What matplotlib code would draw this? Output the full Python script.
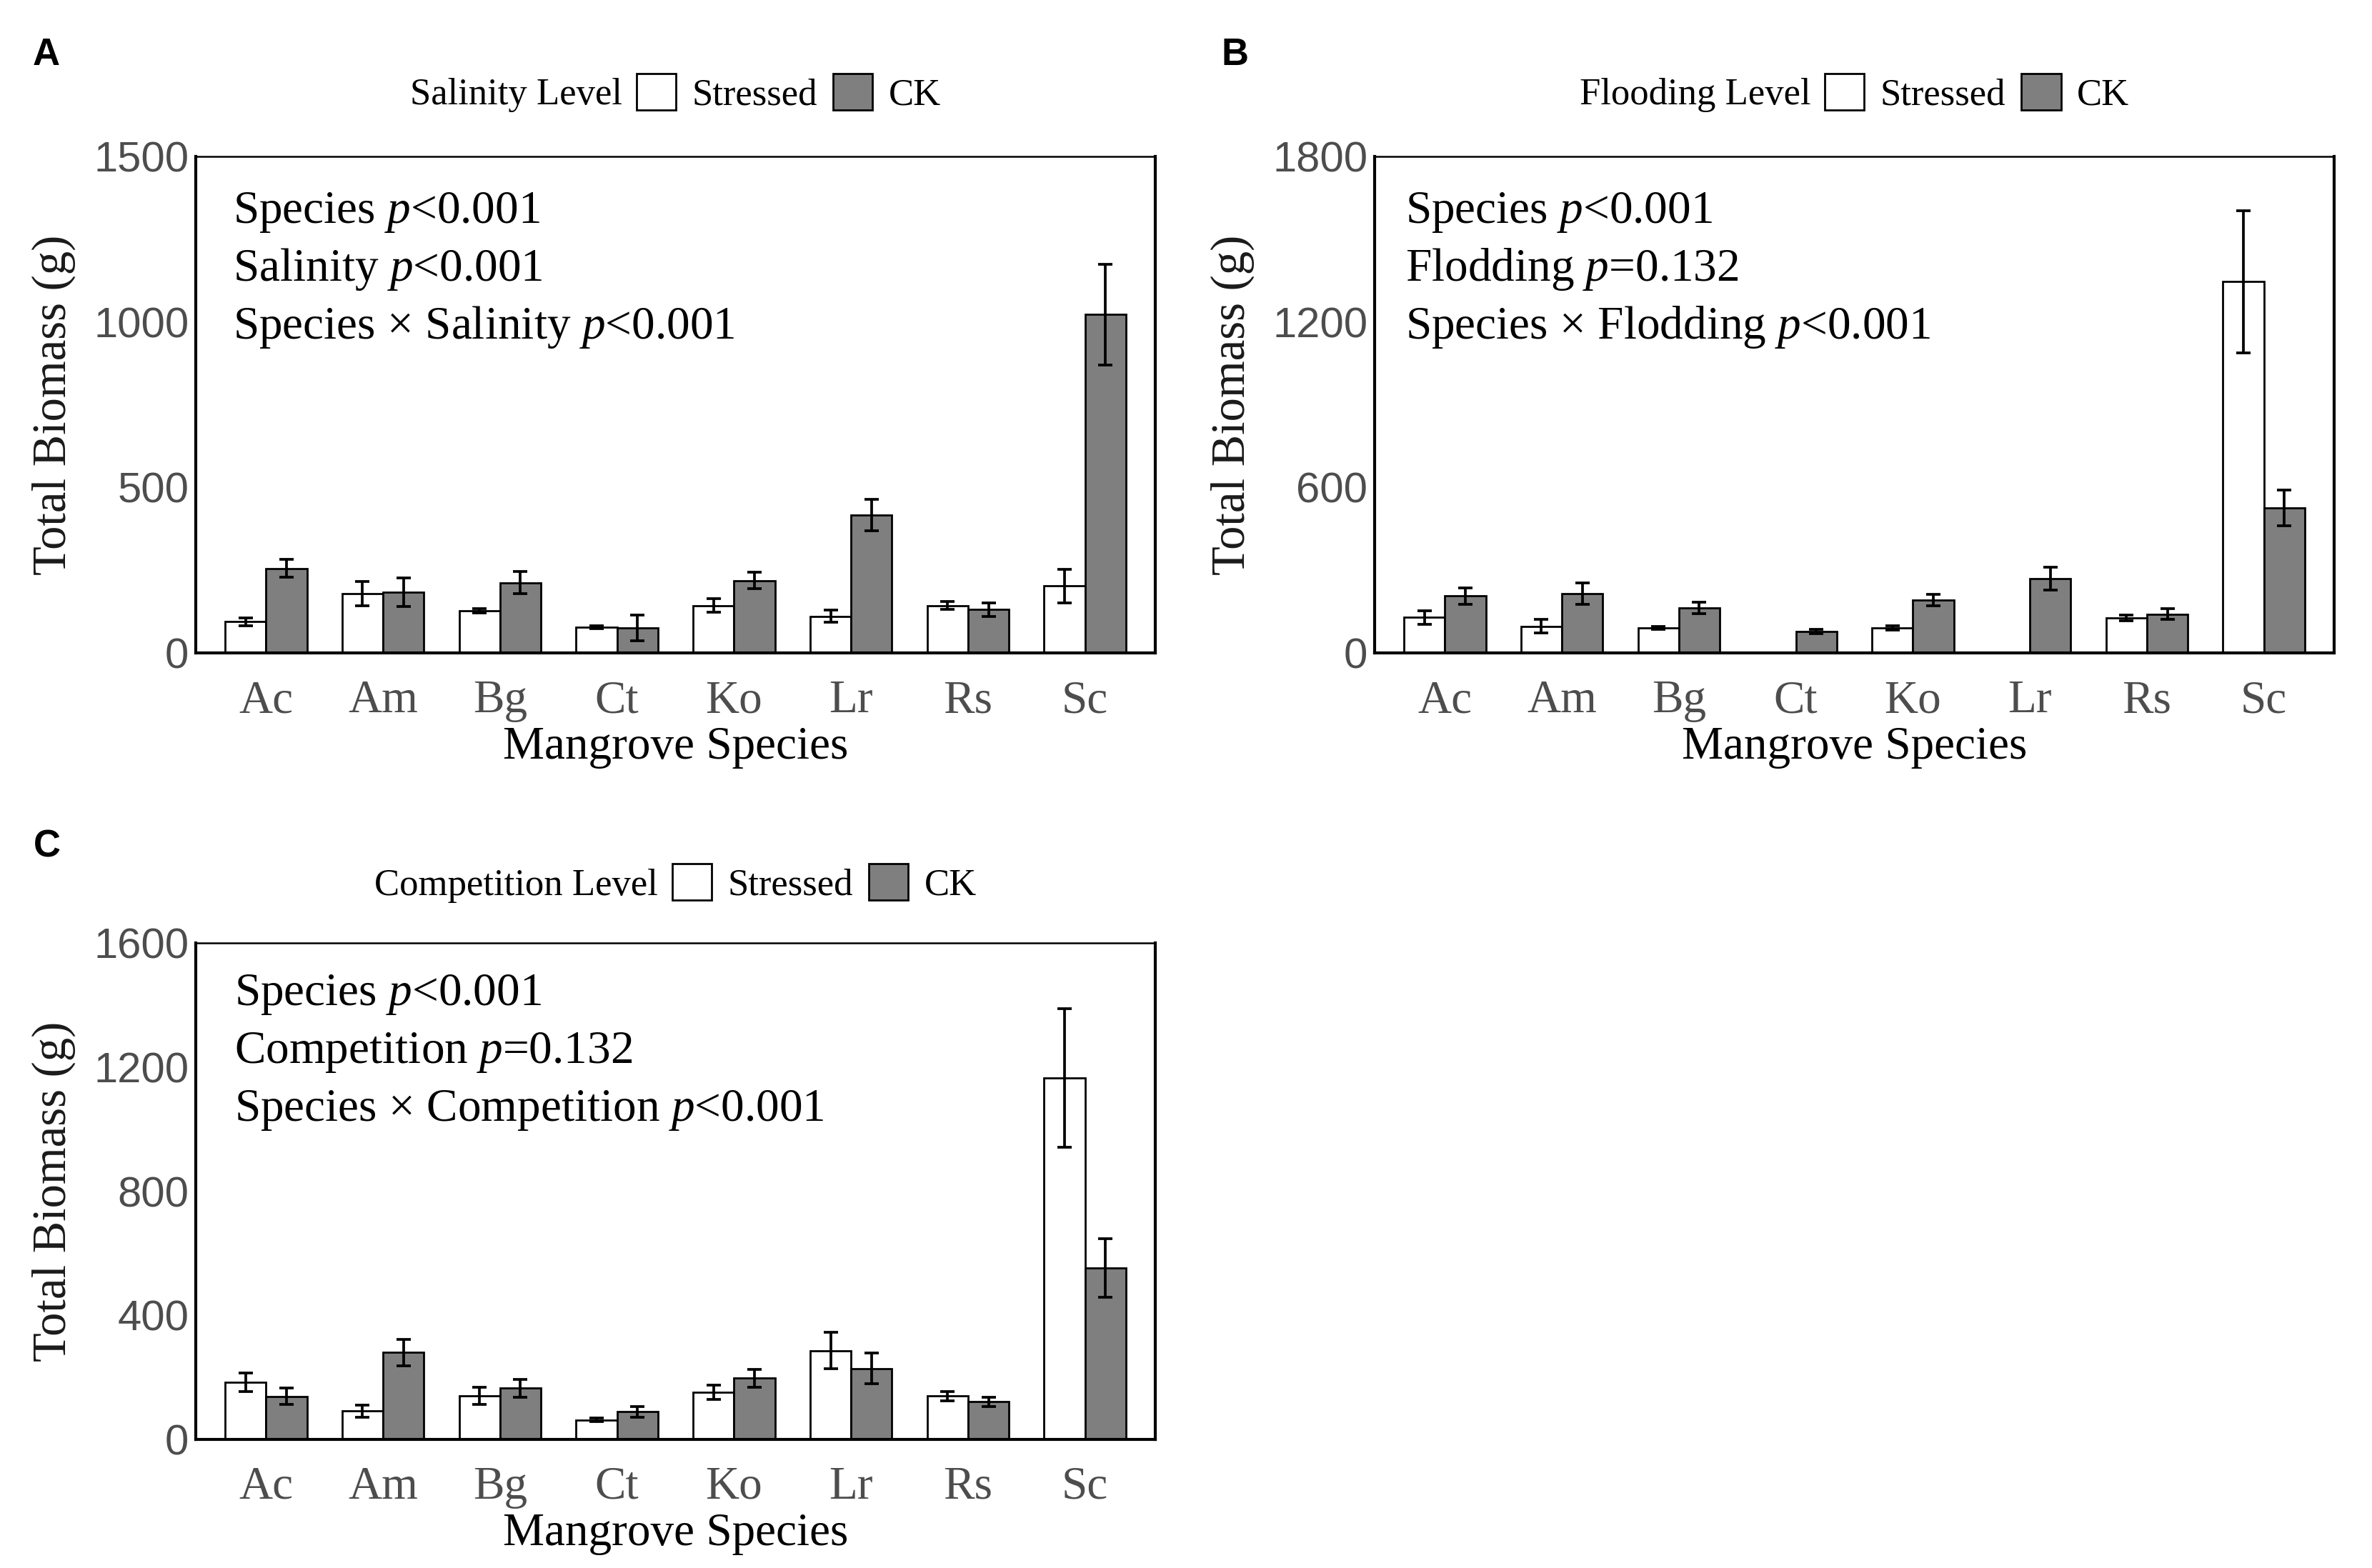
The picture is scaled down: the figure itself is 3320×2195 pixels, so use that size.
import matplotlib
matplotlib.use('Agg')
import matplotlib.pyplot as plt
from matplotlib.offsetbox import HPacker
import numpy as np

nan = np.nan

# data
species = ['Ac', 'Am', 'Bg', 'Ct', 'Ko', 'Lr', 'Rs', 'Sc']

salinity_stressed = [94, 179, 127, 77, 143, 111, 143, 202]
salinity_stressed_se = [12, 37, 6, 4, 21, 18, 12, 50]
salinity_ck = [255, 183, 212, 76, 219, 416, 131, 1022]
salinity_ck_se = [27, 43, 33, 39, 24, 48, 21, 152]

flooding_stressed = [129, 97, 91, nan, 91, nan, 127, 1346]
flooding_stressed_se = [25, 25, 5, nan, 8, nan, 10, 258]
flooding_ck = [206, 214, 163, 77, 192, 270, 141, 526]
flooding_ck_se = [30, 39, 20, 8, 20, 42, 20, 64]

competition_stressed = [184, 91, 140, 63, 153, 286, 140, 1165]
competition_stressed_se = [29, 20, 28, 5, 23, 59, 15, 224]
competition_ck = [139, 280, 165, 89, 197, 229, 121, 552]
competition_ck_se = [26, 42, 29, 18, 29, 50, 15, 94]

plt.rcParams['mathtext.fontset'] = 'custom'
plt.rcParams['mathtext.rm'] = 'Liberation Serif'
plt.rcParams['mathtext.it'] = 'Liberation Serif:italic'

SERIF = 'Liberation Serif'
SANS = 'Liberation Sans'
GREY_TXT = '#4d4d4d'
CK_COL = '#7f7f7f'

fig = plt.figure(figsize=(33.2, 21.95), dpi=100)


def title_left(leg):
    # move the legend title to the left of the entries (ggplot style)
    old = leg._legend_box
    new = HPacker(pad=old.pad, sep=14, align='baseline', children=old.get_children())
    new.set_figure(fig)
    new.set_offset(leg._findoffset)
    leg._legend_box = new


def panel(rect, stressed, stressed_se, ck, ck_se, ymax, yticks, level, notes,
          note_x, note_y0, leg_y):
    ax = fig.add_axes(rect)
    x = np.arange(len(species))
    w = 0.35
    b1 = ax.bar(x - w / 2, stressed, w, color='white', edgecolor='black',
                linewidth=2, zorder=2)
    b2 = ax.bar(x + w / 2, ck, w, color=CK_COL, edgecolor='black',
                linewidth=2, zorder=2)
    ax.errorbar(x - w / 2, stressed, yerr=stressed_se, fmt='none', ecolor='black',
                elinewidth=2.7, capsize=7.5, capthick=2.7, zorder=3)
    ax.errorbar(x + w / 2, ck, yerr=ck_se, fmt='none', ecolor='black',
                elinewidth=2.7, capsize=7.5, capthick=2.7, zorder=3)

    ax.set_xlim(-0.6, len(species) - 0.4)
    ax.set_ylim(0, ymax)
    ax.set_yticks(yticks)
    ax.set_yticklabels([str(t) for t in yticks], fontfamily=SANS, fontsize=43,
                       color=GREY_TXT)
    ax.set_xticks(x)
    ax.set_xticklabels(species, fontfamily=SERIF, fontsize=47, color=GREY_TXT)
    ax.tick_params(axis='y', length=0, pad=7)
    ax.tick_params(axis='x', length=0, pad=27)
    for side in ['left', 'bottom', 'right']:
        ax.spines[side].set_linewidth(3)
    ax.spines['top'].set_linewidth(1.8)

    ax.set_xlabel('Mangrove Species', fontfamily=SERIF, fontsize=47, color='black')
    ax.set_ylabel('Total Biomass (g)', fontfamily=SERIF, fontsize=48, color='#1a1a1a')
    ax.xaxis.set_label_coords(0.5, -0.148)
    ax.yaxis.set_label_coords(-0.125, 0.5)

    for i, line in enumerate(notes):
        ax.text(note_x, note_y0 - i * 0.1165, line, transform=ax.transAxes,
                fontfamily=SERIF, fontsize=47, va='baseline', ha='left')

    leg = ax.legend([b1, b2], ['Stressed', 'CK'], title=level, ncol=2,
                    loc='center', bbox_to_anchor=(0.5, leg_y), frameon=False,
                    prop={'family': SERIF, 'size': 38},
                    title_fontproperties={'family': SERIF, 'size': 38},
                    handlelength=1.05, handleheight=1.1, handletextpad=0.42,
                    columnspacing=0.42, borderaxespad=0)
    title_left(leg)
    return ax


panel([274 / 3320, 1 - 914 / 2195, 1343 / 3320, 695 / 2195],
      salinity_stressed, salinity_stressed_se, salinity_ck, salinity_ck_se,
      1500, [0, 500, 1000, 1500], 'Salinity Level',
      [r'Species $\it{p}$<0.001', r'Salinity $\it{p}$<0.001',
       r'Species $\times$ Salinity $\it{p}$<0.001'],
      0.0387, 0.866, 1.128)

panel([1924 / 3320, 1 - 914 / 2195, 1343 / 3320, 695 / 2195],
      flooding_stressed, flooding_stressed_se, flooding_ck, flooding_ck_se,
      1800, [0, 600, 1200, 1800], 'Flooding Level',
      [r'Species $\it{p}$<0.001', r'Flodding $\it{p}$=0.132',
       r'Species $\times$ Flodding $\it{p}$<0.001'],
      0.032, 0.866, 1.128)

panel([274 / 3320, 1 - 2015 / 2195, 1343 / 3320, 695 / 2195],
      competition_stressed, competition_stressed_se, competition_ck,
      competition_ck_se,
      1600, [0, 400, 800, 1200, 1600], 'Competition Level',
      [r'Species $\it{p}$<0.001', r'Competition $\it{p}$=0.132',
       r'Species $\times$ Competition $\it{p}$<0.001'],
      0.040, 0.875, 1.12)

for lbl, xf, yf in [('A', 46 / 3320, 1 - 91 / 2195), ('B', 1709 / 3320, 1 - 91 / 2195),
                    ('C', 47 / 3320, 1 - 1200 / 2195)]:
    fig.text(xf, yf, lbl, fontfamily=SANS, fontweight='bold', fontsize=38,
             va='baseline', ha='left')

fig.savefig('out.png', dpi=100, facecolor='white')
